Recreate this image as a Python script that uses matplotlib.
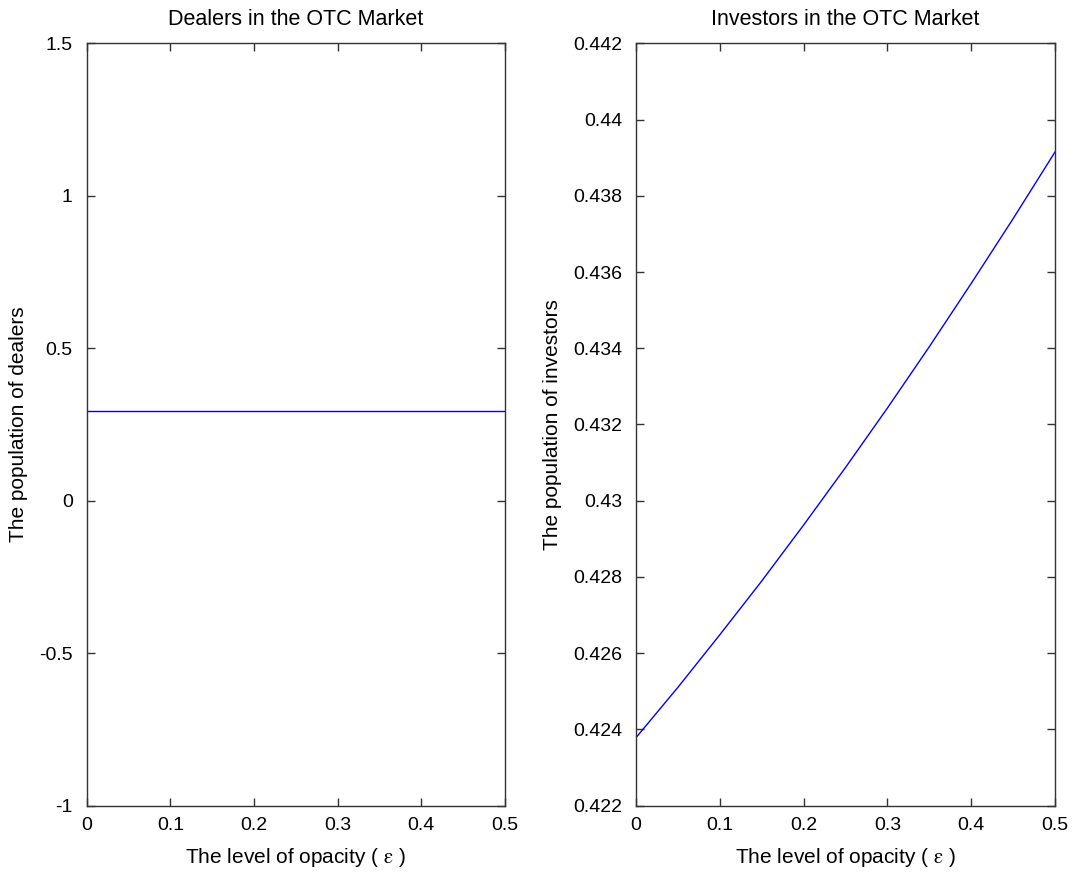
import matplotlib
matplotlib.use("Agg")
import matplotlib.pyplot as plt
from matplotlib.ticker import FuncFormatter

plt.rcParams['font.family'] = ['Liberation Sans', 'DejaVu Sans']
plt.rcParams['mathtext.fontset'] = 'stix'
plt.rcParams['axes.unicode_minus'] = False

# Opacity grid
epsilon = [0.0, 0.05, 0.1, 0.15, 0.2, 0.25, 0.3, 0.35, 0.4, 0.45, 0.5]
# Dealer population (constant across opacity)
dealers = [0.295] * len(epsilon)
# Investor population
investors = [0.42378, 0.42510, 0.42648, 0.42789, 0.42936, 0.43087,
             0.43243, 0.43404, 0.43570, 0.43740, 0.43915]

x_ticks = [0, 0.1, 0.2, 0.3, 0.4, 0.5]
dealer_ticks = [-1, -0.5, 0, 0.5, 1, 1.5]
investor_ticks = [0.422, 0.424, 0.426, 0.428, 0.43, 0.432, 0.434,
                  0.436, 0.438, 0.44, 0.442]

fig = plt.figure(figsize=(10.73, 8.73), dpi=100)
ax1 = fig.add_axes([0.0808, 0.0773, 0.3898, 0.8729])
ax2 = fig.add_axes([0.5927, 0.0773, 0.3905, 0.8729])

fmt = FuncFormatter(lambda v, p: '%g' % round(v, 6))
xlabel = r'The level of opacity ( $\mathrm{\varepsilon}$ )'

for ax, y, yt, ylim, title, ylabel in [
    (ax1, dealers, dealer_ticks, (-1, 1.5), 'Dealers in the OTC Market',
     'The population of dealers'),
    (ax2, investors, investor_ticks, (0.422, 0.442), 'Investors in the OTC Market',
     'The population of investors'),
]:
    ax.plot(epsilon, y, color='#0000ff', lw=1.0)
    ax.set_xlim(0, 0.5)
    ax.set_ylim(*ylim)
    ax.set_xticks(x_ticks)
    ax.set_yticks(yt)
    ax.xaxis.set_major_formatter(fmt)
    ax.yaxis.set_major_formatter(fmt)
    ax.tick_params(direction='in', length=6, width=1, color='#333333',
                   top=True, right=True, labelsize=14)
    ax.tick_params(axis='x', pad=8)
    ax.tick_params(axis='y', pad=10)
    for s in ax.spines.values():
        s.set_color('#333333')
        s.set_linewidth(1.0)
    ax.set_title(title, fontsize=15.5, pad=13)
    ax.set_xlabel(xlabel, fontsize=15, labelpad=9)
    ax.set_ylabel(ylabel, fontsize=15, labelpad=8)

fig.savefig('out.png', dpi=100)
